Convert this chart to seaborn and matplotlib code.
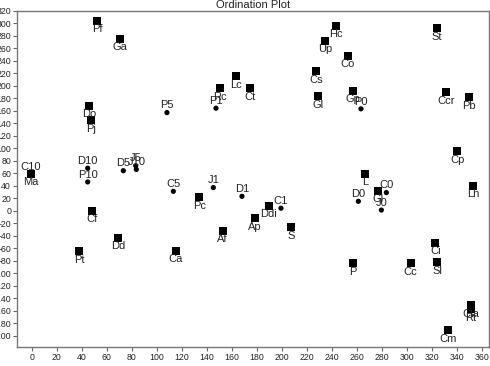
import matplotlib
matplotlib.use('Agg')
import matplotlib.pyplot as plt
import seaborn as sns
import pandas as pd

# ── Data ──────────────────────────────────────────────────────
sq_labels = ['Pf', 'Ga', 'Do', 'Pj', 'Rc', 'Lc', 'Ct', 'Hc', 'Up', 'Co',
             'Cs', 'Gl', 'Gp', 'St', 'Ccr', 'Pb', 'Cp', 'L', 'Ma', 'Cf',
             'Pc', 'Af', 'Dd', 'Pt', 'Ca', 'Ddi', 'Ap', 'S', 'Gl', 'P',
             'Cc', 'Sl', 'Ci', 'Cla', 'Rt', 'Cm', 'Lh']
sq_x = [52.2, 70.4, 45.8, 47.2, 150.9, 163.4, 174.9, 243.4, 234.9, 253.0,
        227.2, 229.0, 257.3, 324.2, 331.7, 349.6, 340.5, 266.9, -0.6, 48.2,
        134.1, 152.8, 69.0, 38.1, 115.4, 189.8, 178.6, 207.7, 277.0, 257.0,
        303.2, 324.2, 322.9, 351.4, 351.4, 333.3, 353.3]
sq_y = [304, 275, 168, 145, 196, 215, 196, 296, 272, 248,
        223, 183, 192, 292, 190, 182, 95, 59, 59, 0,
        22, -32, -43, -65, -64, 8, -12, -26, 32, -84,
        -84, -82, -51, -151, -158, -191, 40]

ci_labels = ['C10', 'D10', 'P10', 'D5', 'J5', 'J10', 'C5', 'P5', 'P1', 'J1',
             'D1', 'C1', 'D0', 'C0', 'J0', 'P0']
ci_x = [-0.6, 44.8, 44.8, 73.3, 83.2, 83.7, 113.3, 108.2, 147.4, 145.3,
        168.2, 199.4, 261.3, 283.7, 279.7, 263.4]
ci_y = [59, 68, 46, 64, 72, 66, 31, 157, 164, 37,
        23, 4, 15, 29, 1, 163]

x_ticks = list(range(0, 361, 20))
y_ticks = list(range(-200, 321, 20))

sq = pd.DataFrame({'x': sq_x, 'y': sq_y, 'label': sq_labels})
ci = pd.DataFrame({'x': ci_x, 'y': ci_y, 'label': ci_labels})

# ── Plot ──────────────────────────────────────────────────────
sns.set_style('white')
plt.rcParams['font.family'] = ['Liberation Sans', 'DejaVu Sans']
plt.rcParams['axes.unicode_minus'] = False

fig = plt.figure(figsize=(4.9, 3.66), dpi=100)
ax = fig.add_axes([17.3 / 490, 1 - 346.7 / 366,
                   (488.5 - 17.3) / 490, (346.7 - 10.7) / 366])

sns.scatterplot(data=ci, x='x', y='y', marker='o', s=14, color='black',
                edgecolor='none', ax=ax, zorder=3)
sns.scatterplot(data=sq, x='x', y='y', marker='s', s=32, color='black',
                edgecolor='none', ax=ax, zorder=4)

for _, r in sq.iterrows():
    ax.annotate(r['label'], (r['x'], r['y']), xytext=(0, -6.2),
                textcoords='offset points', ha='center', va='center',
                fontsize=8, color='#222222', zorder=5)
for _, r in ci.iterrows():
    ax.annotate(r['label'], (r['x'], r['y']), xytext=(0, 5.2),
                textcoords='offset points', ha='center', va='center',
                fontsize=8, color='#222222', zorder=5)

ax.set_xlim(-11.5, 365.4)
ax.set_ylim(-217.6, 320)
ax.set_xticks(x_ticks)
ax.set_yticks(y_ticks)
ax.set_xlabel('')
ax.set_ylabel('')
ax.tick_params(axis='both', labelsize=6.3, length=3, width=0.8,
               color='#666666', labelcolor='#222222', pad=1.5,
               bottom=True, left=True)
for sp in ax.spines.values():
    sp.set_color('#777777')
    sp.set_linewidth(1.0)

ax.set_title('Ordination Plot', fontsize=8, pad=2, color='#222222')

fig.savefig('out.png', dpi=100)
